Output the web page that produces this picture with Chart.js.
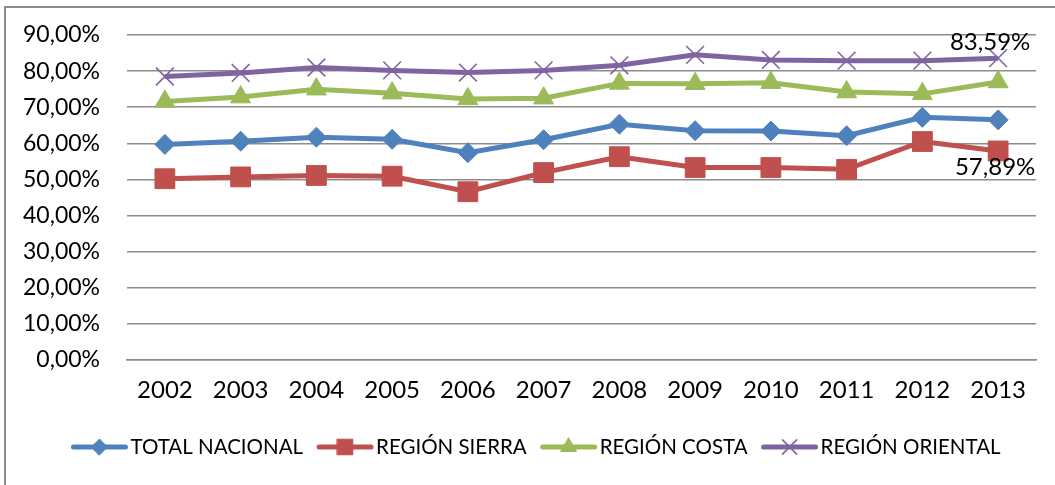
<!DOCTYPE html>
<html>
<head>
<meta charset="utf-8">
<script src="https://cdn.jsdelivr.net/npm/chart.js@4.4.1/dist/chart.umd.min.js"></script>
<style>
    html, body { margin: 0; padding: 0; background: #fff; }
    #wrap { position: relative; width: 1055px; height: 485px; overflow: hidden; }
    #frame { position: absolute; left: 4px; top: 6px; width: 1100px; height: 600px; border: 2px solid #8c8c8c; box-sizing: border-box; }
    #chartCanvas { position: absolute; left: 0; top: 0; }
</style>
</head>
<body>
<div id="wrap">
    <div id="frame"></div>
    <canvas id="chartCanvas" width="1055" height="485"></canvas>
</div>
<script>
// DATA
const years = ['2002', '2003', '2004', '2005', '2006', '2007', '2008', '2009', '2010', '2011', '2012', '2013'];
const totalNacional = [59.7, 60.6, 61.7, 61.1, 57.4, 61.0, 65.3, 63.5, 63.4, 62.1, 67.2, 66.5];
const regionSierra = [50.2, 50.7, 51.1, 50.9, 46.6, 51.9, 56.3, 53.3, 53.3, 52.8, 60.5, 57.89];
const regionCosta = [71.6, 72.8, 75.0, 73.9, 72.3, 72.5, 76.6, 76.5, 76.8, 74.2, 73.7, 77.0];
const regionOriental = [78.5, 79.5, 81.0, 80.2, 79.6, 80.2, 81.6, 84.5, 83.1, 82.9, 82.9, 83.59];
const seriesNames = ['TOTAL NACIONAL', 'REGIÓN SIERRA', 'REGIÓN COSTA', 'REGIÓN ORIENTAL'];

const FONT = 'Lato, Carlito, Calibri, sans-serif';
const fmt = v => v.toFixed(2).replace('.', ',') + '%';

const styles = [
    { color: '#4F81BD', pointStyle: 'rectRot', radius: 10, legendRadius: 8, pointWidth: 1 },
    { color: '#C0504D', pointStyle: 'rect', radius: 14, legendRadius: 11, pointWidth: 1 },
    { color: '#9BBB59', pointStyle: 'triangle', radius: 11.5, legendRadius: 9, pointWidth: 1 },
    { color: '#8064A2', pointStyle: 'crossRot', radius: 12.5, legendRadius: 10, pointWidth: 1.6 }
];

function makeDataset(i, data) {
    const s = styles[i];
    return {
        label: seriesNames[i],
        data: data,
        borderColor: s.color,
        backgroundColor: s.color,
        borderWidth: 5,
        tension: 0,
        pointStyle: s.pointStyle,
        pointRadius: s.radius,
        pointHoverRadius: s.radius,
        pointBorderWidth: s.pointWidth,
        pointBackgroundColor: s.color,
        pointBorderColor: s.color
    };
}

// etiquetas de datos en el ultimo punto
const dataLabels = {
    id: 'dataLabels',
    afterDatasetsDraw(chart) {
        const ctx = chart.ctx;
        ctx.save();
        ctx.font = '24px ' + FONT;
        ctx.fillStyle = '#000';
        ctx.textAlign = 'center';
        ctx.textBaseline = 'middle';
        const last = years.length - 1;
        const pOri = chart.getDatasetMeta(3).data[last];
        ctx.fillText(fmt(regionOriental[last]), pOri.x - 8, pOri.y - 16);
        const pSie = chart.getDatasetMeta(1).data[last];
        ctx.fillText(fmt(regionSierra[last]), pSie.x - 3, pSie.y + 16);
        ctx.restore();
    }
};

// leyenda estilo Excel: linea + marcador
const lineLegend = {
    id: 'lineLegend',
    afterDraw(chart) {
        const ctx = chart.ctx;
        const lineLen = 56, gapText = 3, gapItem = 14, y = 447;
        ctx.save();
        ctx.font = '20.5px ' + FONT;
        const widths = seriesNames.map(n => ctx.measureText(n).width);
        const total = widths.reduce((a, w) => a + lineLen + gapText + w, 0) + gapItem * (seriesNames.length - 1);
        let x = 536 - total / 2;
        seriesNames.forEach((name, i) => {
            const s = styles[i];
            ctx.strokeStyle = s.color;
            ctx.lineWidth = 5;
            ctx.lineCap = 'round';
            ctx.beginPath();
            ctx.moveTo(x + 2, y);
            ctx.lineTo(x + lineLen - 2, y);
            ctx.stroke();
            ctx.fillStyle = s.color;
            ctx.lineWidth = s.pointWidth;
            Chart.helpers.drawPoint(ctx, { pointStyle: s.pointStyle, radius: s.legendRadius, rotation: 0, borderWidth: s.pointWidth }, x + lineLen / 2, y);
            ctx.fillStyle = '#000';
            ctx.textAlign = 'left';
            ctx.textBaseline = 'middle';
            ctx.fillText(name, x + lineLen + gapText, y);
            x += lineLen + gapText + widths[i] + gapItem;
        });
        ctx.restore();
    }
};

const ctx = document.getElementById('chartCanvas').getContext('2d');
const chart = new Chart(ctx, {
    type: 'line',
    data: {
        labels: years,
        datasets: [
            makeDataset(0, totalNacional),
            makeDataset(1, regionSierra),
            makeDataset(2, regionCosta),
            makeDataset(3, regionOriental)
        ]
    },
    options: {
        responsive: false,
        animation: false,
        layout: { padding: { left: 0, right: 19, top: 35, bottom: 0 } },
        scales: {
            x: {
                offset: true,
                grid: { display: false, drawTicks: false },
                border: { display: true, color: '#8c8c8c', width: 1.5 },
                ticks: { color: '#000', font: { family: FONT, size: 24 }, padding: 16, maxRotation: 0 },
                afterFit: scale => { scale.height = 125; scale.paddingLeft = 0; scale.paddingRight = 0; }
            },
            y: {
                min: 0,
                max: 90,
                grid: { color: '#8c8c8c', lineWidth: 1.5, drawTicks: false },
                border: { display: false },
                ticks: { stepSize: 10, color: '#000', font: { family: FONT, size: 23 }, padding: 27, callback: v => fmt(v) },
                afterFit: scale => { scale.width = 127; scale.paddingTop = 0; scale.paddingBottom = 0; }
            }
        },
        plugins: {
            legend: { display: false },
            tooltip: { enabled: false }
        }
    },
    plugins: [dataLabels, lineLegend]
});
</script>
</body>
</html>
